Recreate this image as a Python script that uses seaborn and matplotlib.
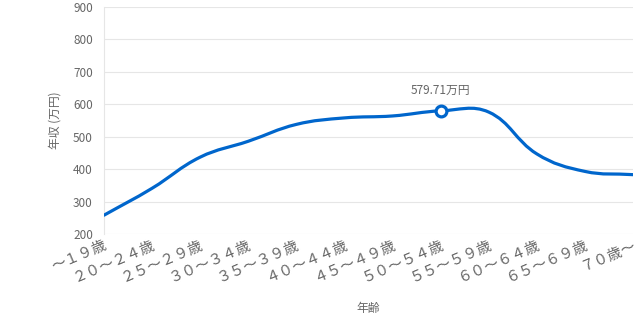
import matplotlib
matplotlib.use("Agg")
import matplotlib.pyplot as plt
import seaborn as sns
import numpy as np
import pandas as pd
from matplotlib.path import Path
from matplotlib.patches import PathPatch

# ---- data ----
categories = ["～１９歳", "２０～２４歳", "２５～２９歳", "３０～３４歳", "３５～３９歳",
              "４０～４４歳", "４５～４９歳", "５０～５４歳", "５５～５９歳",
              "６０～６４歳", "６５～６９歳", "７０歳～"]
income = [258, 341, 437, 486, 538, 558, 564, 579.71, 576, 447, 393, 383]
highlight_index = 7
highlight_label = "579.71万円"
y_ticks = [200, 300, 400, 500, 600, 700, 800, 900]
x_title = "年齢"
y_title = "年収 (万円)"

sns.set_theme(style="white")
plt.rcParams['font.family'] = ['Noto Sans CJK JP', 'DejaVu Sans']

LINE = "#0066cc"
TXT = "#666666"
GRID = "#e6e6e6"

df = pd.DataFrame({"pos": np.arange(len(categories)), "income": income})

fig = plt.figure(figsize=(6.38, 3.19), dpi=100)
ax = fig.add_axes([104/638, 1 - 234/319, (633-104)/638, (234-7)/319])
ax.set_xlim(0, len(categories) - 1)
ax.set_ylim(y_ticks[0], y_ticks[-1])

# smooth curve (Chart.js-like spline, tension 0.4) built from the data points
pts = ax.transData.transform(np.column_stack([df["pos"], df["income"]]))
n = len(pts)
t = 0.4
cps_prev, cps_next = [], []
for i in range(n):
    cur = pts[i]
    prv = pts[i-1] if i > 0 else cur
    nxt = pts[i+1] if i < n-1 else cur
    d01 = np.hypot(*(cur - prv))
    d12 = np.hypot(*(nxt - cur))
    s = d01 + d12
    s01 = d01 / s if s else 0
    s12 = d12 / s if s else 0
    cps_prev.append(cur - t * s01 * (nxt - prv))
    cps_next.append(cur + t * s12 * (nxt - prv))
verts = [pts[0]]
codes = [Path.MOVETO]
for i in range(n - 1):
    verts += [cps_next[i], cps_prev[i+1], pts[i+1]]
    codes += [Path.CURVE4] * 3
verts = ax.transData.inverted().transform(np.array(verts))
ax.add_patch(PathPatch(Path(verts, codes), fill=False, edgecolor=LINE,
                       linewidth=2.3, capstyle='round', joinstyle='round', zorder=3))

sns.scatterplot(data=df.iloc[[highlight_index]], x="pos", y="income", ax=ax,
                s=60, color="white", edgecolor=LINE, linewidth=2.3, zorder=4)
ax.annotate(highlight_label, (highlight_index, income[highlight_index]),
            xytext=(0, 15), textcoords="offset points", ha="center", va="center",
            color=TXT, fontsize=8.5)

ax.set_yticks(y_ticks)
ax.set_xticks(df["pos"])
ax.set_xticklabels(categories, rotation=23, ha="right", va="top",
                   rotation_mode="anchor", color=TXT, fontsize=10.5)
ax.tick_params(axis="y", length=6, color=GRID, labelcolor=TXT, labelsize=8.5, pad=2)
ax.tick_params(axis="x", length=0, pad=3)
ax.grid(axis="y", color=GRID, linewidth=0.8)
ax.grid(axis="x", visible=False)
for side in ["top", "right", "bottom"]:
    ax.spines[side].set_visible(False)
ax.spines["left"].set_color(GRID)
ax.spines["left"].set_linewidth(0.8)

ax.set_xlabel(x_title, color=TXT, fontsize=8.5)
ax.set_ylabel(y_title, color=TXT, fontsize=8.5)
ax.xaxis.set_label_coords(0.5, -0.33)
ax.yaxis.set_label_coords(-0.093, 0.5)
ax.xaxis.label.set_va("center")
ax.yaxis.label.set_va("center")

fig.savefig("out.png", dpi=100)
